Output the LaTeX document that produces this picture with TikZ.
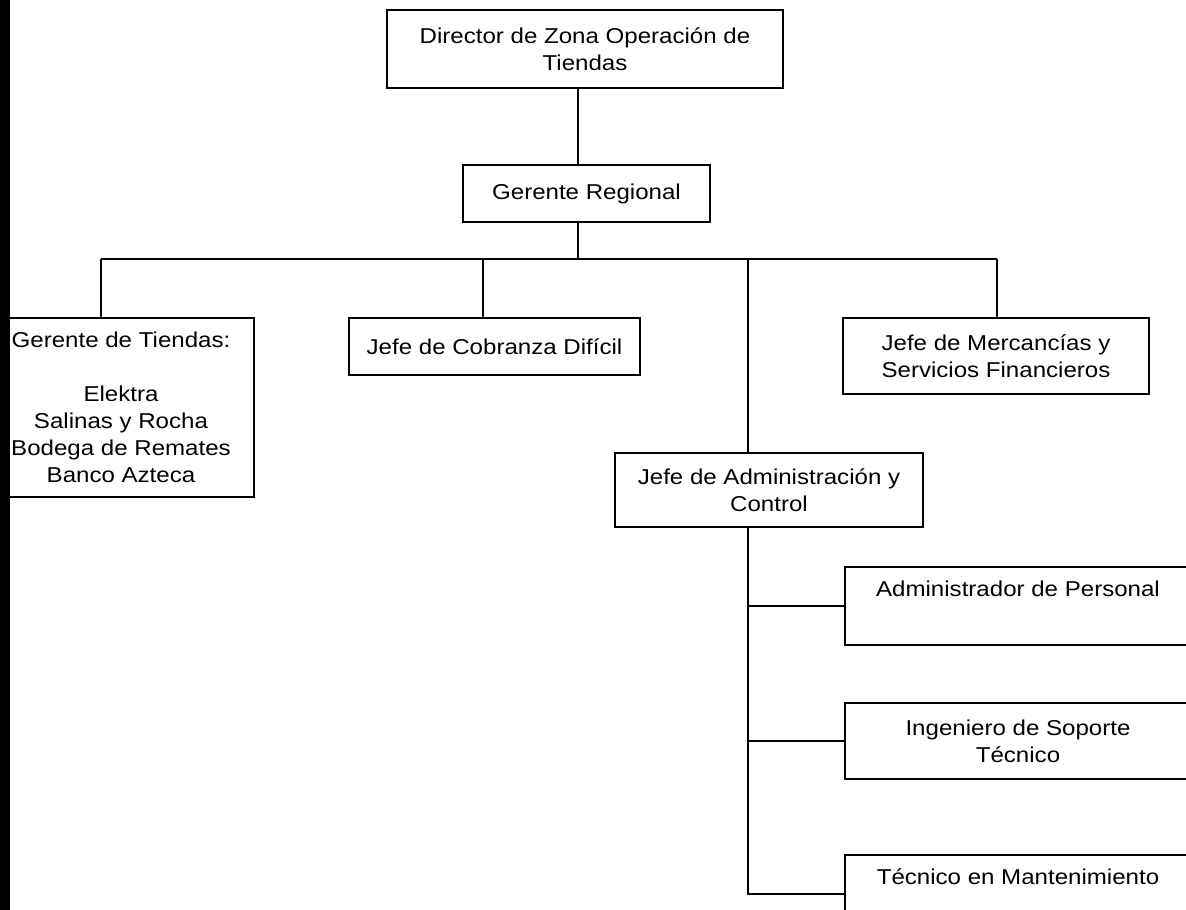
\documentclass[tikz,border=0pt]{standalone}
\usepackage{fontspec}
\setmainfont{Liberation Sans}[FakeStretch=1.12]
\begin{document}
\begin{tikzpicture}[x=1pt,y=-1pt,
  box/.style={draw, line width=1.3pt, inner sep=0pt, align=center,
    font=\fontsize{21.5}{27}\selectfont},
  conn/.style={line width=1.3pt}]
\useasboundingbox (0,0) rectangle (1186,910);
\clip (0,0) rectangle (1186,910);
\fill[white] (0,0) rectangle (1186,910);
% boxes
\node[box, minimum width=396pt, minimum height=78pt] (dir) at (585,49)
  {Director de Zona Operación de\\Tiendas};
\node[box, minimum width=247pt, minimum height=57pt] (reg) at (586.5,193.5)
  {Gerente Regional};
\node[box, minimum width=266pt, minimum height=179pt] (tie) at (121,407.5)
  {Gerente de Tiendas:\\ \\Elektra\\Salinas y Rocha\\Bodega de Remates\\Banco Azteca};
\node[box, minimum width=291pt, minimum height=57pt] (cob) at (494.5,346.5)
  {Jefe de Cobranza Difícil};
\node[box, minimum width=306pt, minimum height=76pt] (mer) at (996,356)
  {Jefe de Mercancías y\\Servicios Financieros};
\node[box, minimum width=308pt, minimum height=74pt] (adm) at (769,490)
  {Jefe de Administración y\\Control};
\node[box, minimum width=346pt, minimum height=78pt] (per) at (1018,606)
  {Administrador de Personal\\ \strut};
\node[box, minimum width=346pt, minimum height=76pt] (ing) at (1018,741)
  {Ingeniero de Soporte\\Técnico};
\node[box, minimum width=346pt, minimum height=78pt] (tec) at (1018,894)
  {Técnico en Mantenimiento\\ \strut};
% connectors
\coordinate (top) at (578,0);
\coordinate (d1) at (101,259);
\coordinate (d2) at (483,259);
\coordinate (d3) at (748,259);
\coordinate (d4) at (997,259);
\draw[conn] (dir.south -| top) -- (reg.north -| top);
\draw[conn] (reg.south -| top) -- (d1 -| top);
\draw[conn] (d1) -- (d4);
\draw[conn] (d1) -- (d1 |- tie.north);
\draw[conn] (d2) -- (d2 |- cob.north);
\draw[conn] (d3) -- (d3 |- adm.north);
\draw[conn] (d4) -- (d4 |- mer.north);
\draw[conn] (adm.south -| d3) -- (tec.west -| d3) -- (tec.west);
\draw[conn] (per.west -| d3) -- (per.west);
\draw[conn] (ing.west -| d3) -- (ing.west);
% scan edge bar
\fill[black] (0,0) rectangle (10,910);
\end{tikzpicture}
\end{document}
